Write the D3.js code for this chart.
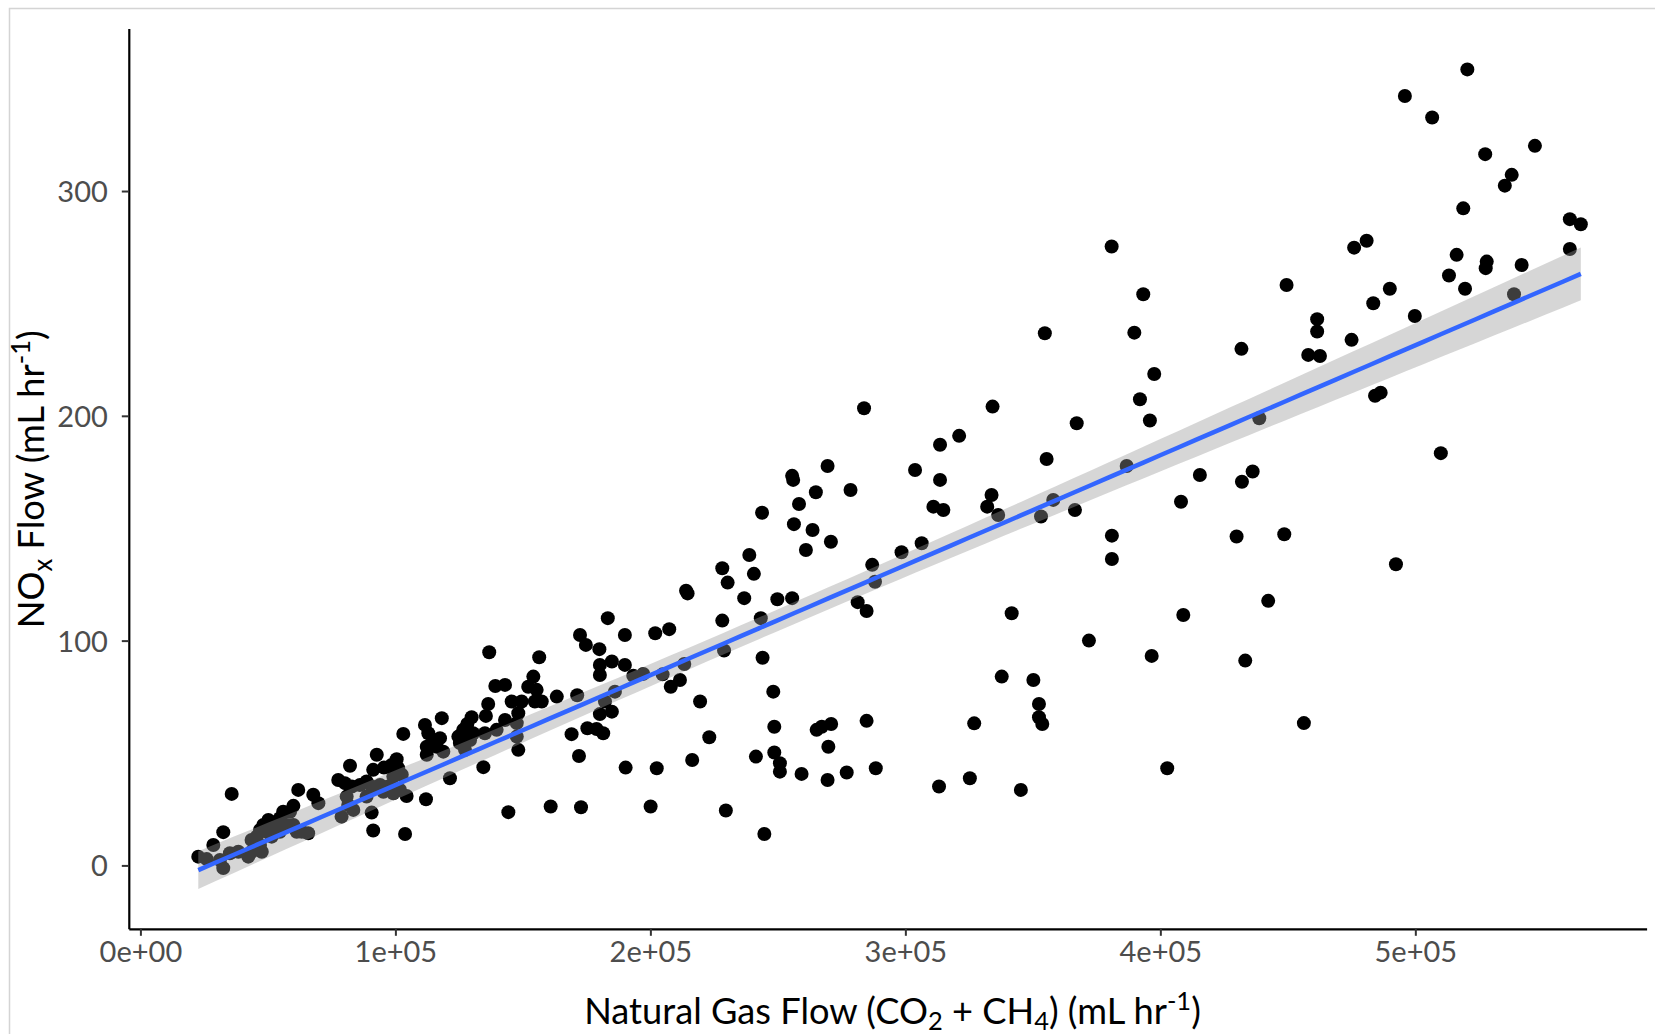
<!DOCTYPE html>
<html><head><meta charset="utf-8">
<script src="https://cdn.jsdelivr.net/npm/d3@7"></script>
<style>
body{margin:0;background:#fff;}
svg{display:block;}
text{font-family:Lato,"Open Sans",sans-serif;}
</style>
</head><body>
<svg id="chart" width="1655" height="1034"></svg>
<script>
// Natural gas flow (CO2 + CH4), mL/hr
const gasFlow = [
136800,139200,136400,135500,129900,128200,126600,130500,129300,124700,
125300,127300,135100,139700,134500,118200,111600,112900,114900,117500,
112300,116200,118800,112300,121400,103100,92700,100500,98500,95500,
91300,101100,102500,99200,97200,101800,104400,82200,77600,80200,
82900,86100,88700,90700,94000,95300,99200,80900,81500,78900,
83500,88700,90700,91300,103800,112000,67800,69800,61900,60000,
58700,56000,54700,52800,50200,48200,46900,49500,45600,43600,
46900,44900,47600,51500,54700,60000,63300,65800,61300,57400,
52100,35800,32500,28600,22700,26000,32500,35100,38400,42300,
43600,31200,283800,269500,255600,256000,264900,278500,258300,243800,
256300,263600,270800,261000,287000,288100,281300,284800,238800,240600,
228200,230300,214000,214600,236800,249800,255600,228200,243300,183300,
172400,174700,190000,201900,207400,156400,180000,180200,184900,190000,
180200,228900,244000,213300,204800,193300,197200,211600,208000,186100,
182200,180200,184900,171300,163300,248200,219500,169100,175300,178900,
181500,223100,172000,248600,248600,241400,250800,250800,259300,216400,
190300,202500,265200,267200,270900,269800,269500,277000,284800,288400,
144300,160900,172800,200100,229600,244700,143000,154100,152100,155400,
145600,149500,154700,157400,148200,143000,147600,148200,147600,334200,
392000,395900,367200,321100,313600,303800,313600,311000,314900,355400,
333800,332100,336400,358000,353200,366500,386800,415500,436200,432000,
438800,408100,381000,381000,429900,306400,298500,341700,409000,372000,
396600,433300,337800,350200,352400,352400,353700,327000,313200,325300,
345300,402700,510000,448600,492400,442300,456300,520400,495900,506600,
546900,527400,537800,535100,518800,560600,564900,476000,480900,516200,
560600,449500,490000,483500,513200,528000,527600,519500,541700,499800,
538700,461500,461500,458000,462600,475000,484200,486400,380900,393300,
389800,397600,431800,354700
];
// NOx flow, mL/hr
const noxFlow = [
94.8,79.8,71.8,66.5,65.9,62.9,60.3,58.8,55.8,57.3,
54.4,51.4,58.8,60.3,43.7,65.5,62.5,58.8,55.8,56.6,
52.8,52.8,50.6,49.2,38.8,58.5,49.2,47.2,44.7,43.5,
42.5,43.2,40.3,39.5,35.1,33.6,30.9,44.3,38.0,36.6,
35.1,35.8,37.3,35.1,35.8,32.8,32.1,30.6,26.9,21.7,
24.7,30.6,23.5,15.5,14.0,29.4,31.4,27.7,33.6,26.5,
23.9,23.9,21.0,18.8,20.2,18.0,15.8,15.0,12.8,11.3,
9.1,7.7,6.1,12.8,15.0,18.0,15.0,14.3,15.0,18.0,
17.3,31.8,14.8,9.1,3.9,2.8,-1.2,5.4,6.1,3.9,
6.1,2.4,203.4,177.7,173.3,171.5,166.0,167.0,160.8,156.9,
151.8,149.2,144.0,140.3,133.7,126.2,117.1,113.2,138.1,129.7,
132.2,125.8,122.2,121.0,118.9,118.4,118.9,108.9,110.0,110.0,
102.5,98.1,102.5,103.3,105.1,92.6,96.2,89.2,90.7,89.2,
84.7,95.6,92.4,89.6,85.0,84.4,85.2,82.5,79.5,77.3,
72.9,67.3,68.4,75.7,75.1,77.3,72.9,58.4,61.0,60.7,
58.8,57.0,48.7,61.7,50.2,48.4,45.5,41.7,40.7,46.9,
43.5,43.2,60.3,61.7,62.9,52.8,38.0,41.3,64.3,43.2,
23.7,26.2,25.9,26.2,24.4,14.0,80.3,84.0,79.5,78.1,
72.9,72.9,72.9,72.9,67.7,64.7,57.3,51.4,63.3,204.1,
207.4,197.9,196.7,191.1,187.1,175.9,171.5,159.6,158.1,180.8,
164.8,159.6,155.9,162.6,155.2,158.1,177.7,173.7,175.2,170.7,
198.9,161.8,146.7,136.3,146.3,143.3,139.3,112.2,111.4,100.0,
93.2,91.1,84.0,82.5,71.8,65.9,62.9,63.2,35.1,38.8,
33.6,43.2,183.4,147.3,134.0,117.7,63.3,354.1,342.3,332.7,
320.1,316.4,307.2,302.4,292.3,287.5,285.2,274.8,277.9,271.6,
274.2,258.2,256.5,250.1,262.4,268.6,265.7,256.5,267.1,244.4,
254.1,243.0,237.5,227.1,226.6,233.8,208.9,210.3,275.3,254.1,
237.0,218.6,229.8,236.7
];
const xTickValues = [0, 100000, 200000, 300000, 400000, 500000];
const xTickLabels = ["0e+00", "1e+05", "2e+05", "3e+05", "4e+05", "5e+05"];
const yTickValues = [0, 100, 200, 300];
const yTickLabels = ["0", "100", "200", "300"];

const svg = d3.select("#chart");
const data = gasFlow.map((g, i) => ({x: g, y: noxFlow[i]}));

// panel frame
svg.append("rect").attr("x", 9.5).attr("y", 8.5).attr("width", 1700).attr("height", 1100)
  .attr("fill", "none").attr("stroke", "#d4d4d4").attr("stroke-width", 1.5);

const x = d3.scaleLinear().domain([-4550, 590700]).range([128.8, 1646.6]);
const y = d3.scaleLinear().domain([-28.2, 372.3]).range([928.8, 28.5]);

// points
svg.append("g").selectAll("circle").data(data).join("circle")
  .attr("cx", d => x(d.x)).attr("cy", d => y(d.y)).attr("r", 7).attr("fill", "#000");

// linear model + 95% CI (like geom_smooth(method = "lm"))
const n = data.length;
const xbar = d3.mean(data, d => d.x), ybar = d3.mean(data, d => d.y);
let sxx = 0, sxy = 0;
data.forEach(d => { sxx += (d.x - xbar) ** 2; sxy += (d.x - xbar) * (d.y - ybar); });
const b = sxy / sxx, a = ybar - b * xbar;
let sse = 0;
data.forEach(d => { sse += (d.y - a - b * d.x) ** 2; });
const s = Math.sqrt(sse / (n - 2));
const z = 1.959964, df = n - 2;
const tq = z + (z ** 3 + z) / (4 * df);
const [xmin, xmax] = d3.extent(data, d => d.x);
const fit = d3.range(80).map(i => {
  const xv = xmin + (xmax - xmin) * i / 79;
  const yv = a + b * xv;
  const se = s * Math.sqrt(1 / n + (xv - xbar) ** 2 / sxx);
  return {x: xv, y: yv, lo: yv - tq * se, hi: yv + tq * se};
});
svg.append("path").datum(fit)
  .attr("d", d3.area().x(d => x(d.x)).y0(d => y(d.lo)).y1(d => y(d.hi)))
  .attr("fill", "#999999").attr("fill-opacity", 0.4);
svg.append("path").datum(fit)
  .attr("d", d3.line().x(d => x(d.x)).y(d => y(d.y)))
  .attr("fill", "none").attr("stroke", "#3366FF").attr("stroke-width", 4.5);

// axes
const xAxis = svg.append("g").attr("transform", "translate(0,928.8)")
  .call(d3.axisBottom(x).tickValues(xTickValues).tickFormat((d, i) => xTickLabels[i]).tickSize(7).tickSizeOuter(0));
const yAxis = svg.append("g").attr("transform", "translate(128.8,0)")
  .call(d3.axisLeft(y).tickValues(yTickValues).tickFormat((d, i) => yTickLabels[i]).tickSize(7).tickSizeOuter(0));
[xAxis, yAxis].forEach(g => {
  g.select(".domain").attr("stroke", "#000").attr("stroke-width", 2.2);
  g.selectAll(".tick line").attr("stroke", "#333").attr("stroke-width", 2);
  g.selectAll(".tick text").attr("fill", "#4d4d4d").attr("font-size", 29)
    .attr("font-family", "Lato, 'Open Sans', sans-serif");
});
xAxis.selectAll(".tick text").attr("y", 33).attr("dy", 0);
yAxis.selectAll(".tick text").attr("x", -21).attr("dy", "0.36em");

// axis titles
const xt = svg.append("text").attr("text-anchor", "middle").attr("font-size", 37).attr("fill", "#000");
xt.append("tspan").text("Natural Gas Flow (CO");
xt.append("tspan").text("2").attr("font-size", 26).attr("dy", 6);
xt.append("tspan").text(" + CH").attr("dy", -6);
xt.append("tspan").text("4").attr("font-size", 26).attr("dy", 6);
xt.append("tspan").text(") (mL hr").attr("dy", -6);
xt.append("tspan").text("-1").attr("font-size", 26).attr("dy", -14);
xt.append("tspan").text(")").attr("dy", 14);
const xw = xt.node().getBBox().width;
xt.attr("transform", `translate(892.5,1024) scale(${617 / xw},1)`);

const yt = svg.append("text").attr("text-anchor", "middle").attr("font-size", 37).attr("fill", "#000");
yt.append("tspan").text("NO");
yt.append("tspan").text("x").attr("font-size", 26).attr("dy", 8);
yt.append("tspan").text(" Flow (mL hr").attr("dy", -8);
yt.append("tspan").text("-1").attr("font-size", 26).attr("dy", -14);
yt.append("tspan").text(")").attr("dy", 14);
const yw = yt.node().getBBox().width;
yt.attr("transform", `translate(44.3,479.2) rotate(-90) scale(${298 / yw},1)`);
</script>
</body></html>
